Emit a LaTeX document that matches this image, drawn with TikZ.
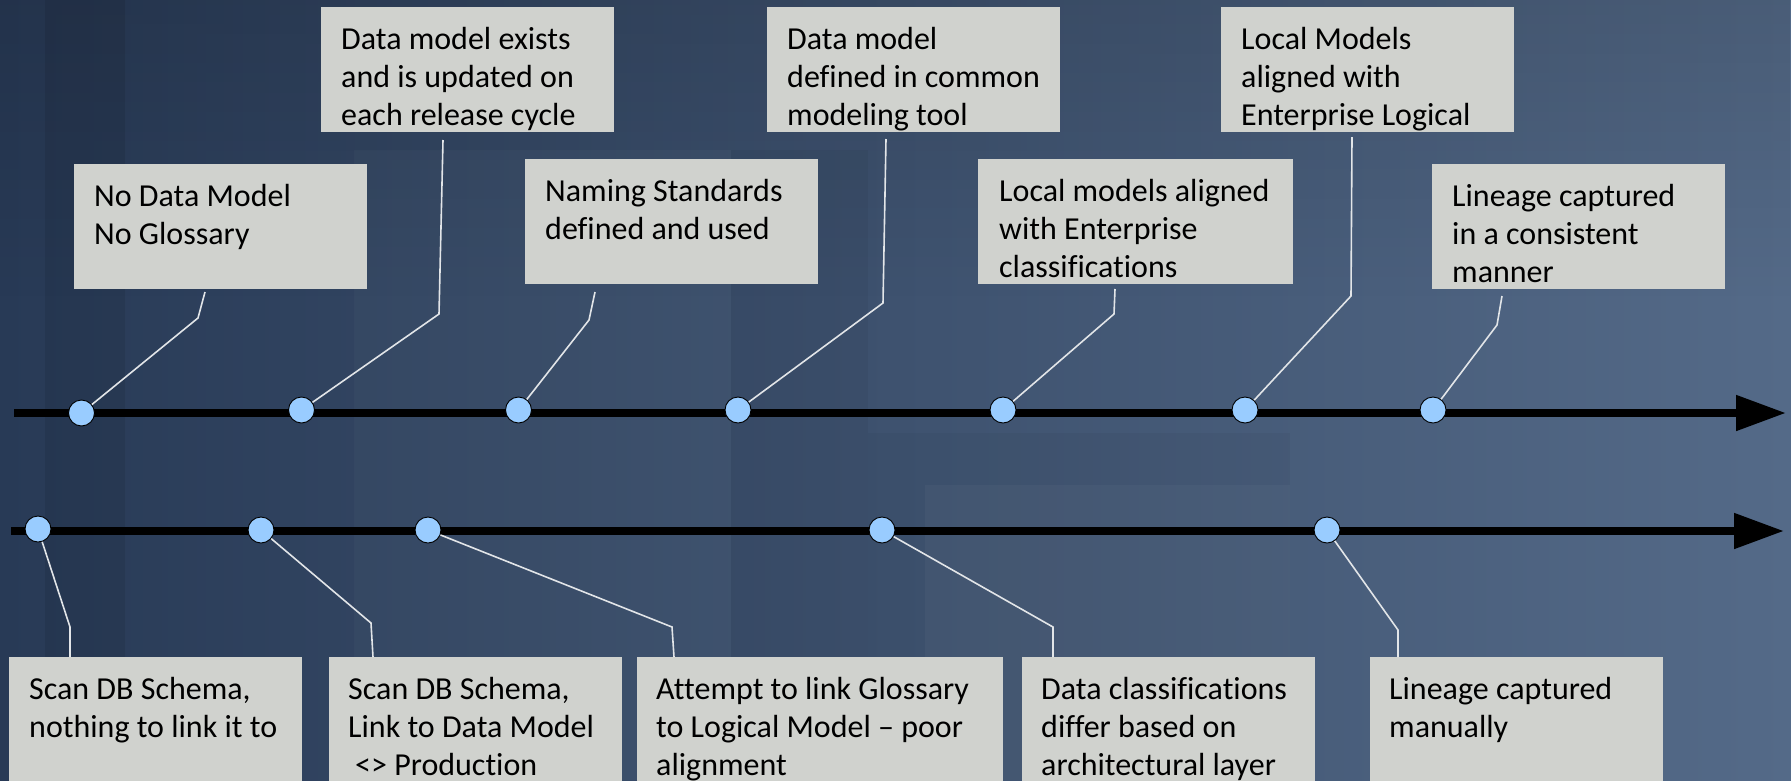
\documentclass[tikz,border=0pt]{standalone}
\usepackage{fontspec}
\setmainfont{Carlito}[Ligatures={NoCommon}]
\usetikzlibrary{arrows.meta,fadings}

\definecolor{bgdark}{RGB}{40,58,86}
\definecolor{bglight}{RGB}{84,106,136}
\definecolor{boxfill}{RGB}{208,210,206}
\definecolor{dotfill}{RGB}{153,204,255}
\definecolor{leadcol}{RGB}{226,229,232}

\tikzset{
  card/.style={fill=boxfill, draw=none, anchor=north west, inner sep=0pt, outer sep=0pt},
  caption/.style={anchor=base west, inner sep=0pt, font=\fontsize{32}{38}\selectfont},
  milestone/.style={circle, fill=dotfill, draw=black, line width=0.9pt, minimum size=26pt, inner sep=0pt},
  leader/.style={draw=leadcol, line width=1.6pt, line join=miter},
  axis/.style={line width=8pt, -{Triangle[length=50pt,width=34pt]}}
}

\begin{document}
\begin{tikzpicture}[x=1pt, y=-1pt]
\useasboundingbox (0,0) rectangle (1791,780);
\clip (0,0) rectangle (1791,780);

% backdrop
\fill[left color=bgdark, right color=bglight] (0,0) rectangle (1791,780);
\fill[black, opacity=0.12, path fading=south] (0,0) rectangle (1791,300);
\fill[black, opacity=0.08] (45,0) rectangle (125,780);
\fill[white, opacity=0.025] (354,150) rectangle (731,780);
\fill[black, opacity=0.04] (731,150) rectangle (868,780);
\fill[black, opacity=0.035] (868,433) rectangle (1290,780);
\fill[white, opacity=0.03] (925,485) rectangle (1290,780);

% ---------- upper time line ----------
\node[card, minimum width=293pt, minimum height=125pt] (u1) at (74,164) {};
\node[card, minimum width=293pt, minimum height=125pt] (u2) at (321,7) {};
\node[card, minimum width=293pt, minimum height=125pt] (u3) at (525,159) {};
\node[card, minimum width=293pt, minimum height=125pt] (u4) at (767,7) {};
\node[card, minimum width=315pt, minimum height=125pt] (u5) at (978,159) {};
\node[card, minimum width=293pt, minimum height=125pt] (u6) at (1221,7) {};
\node[card, minimum width=293pt, minimum height=125pt] (u7) at (1432,164) {};

\node[caption] (ut1) at (94,206) {\parbox[t]{280pt}{No Data Model\\No Glossary}};
\node[caption] (ut2) at (341,49) {\parbox[t]{280pt}{Data model exists\\and is updated on\\each release cycle}};
\node[caption] (ut3) at (545,201) {\parbox[t]{280pt}{Naming Standards\\defined and used}};
\node[caption] (ut4) at (787,49) {\parbox[t]{280pt}{Data model\\defined in common\\modeling tool}};
\node[caption] (ut5) at (999,201) {\parbox[t]{300pt}{Local models aligned\\with Enterprise\\classifications}};
\node[caption] (ut6) at (1241,49) {\parbox[t]{280pt}{Local Models\\aligned with\\Enterprise Logical}};
\node[caption] (ut7) at (1452,206) {\parbox[t]{280pt}{Lineage captured\\in a consistent\\manner}};

\coordinate (ua1) at (205,292);  \coordinate (uk1) at (198,318);
\coordinate (ua2) at (443,140);  \coordinate (uk2) at (439,314);
\coordinate (ua3) at (595,292);  \coordinate (uk3) at (589,320);
\coordinate (ua4) at (886,139);  \coordinate (uk4) at (883,303);
\coordinate (ua5) at (1115,289); \coordinate (uk5) at (1114,314);
\coordinate (ua6) at (1352,137); \coordinate (uk6) at (1351,296);
\coordinate (ua7) at (1502,296); \coordinate (uk7) at (1497,325);

\coordinate (us) at (14,413);
\coordinate (ue) at (1786,413);
\draw[axis] (us) -- (ue);

\node[milestone] (ud1) at (81.5,413) {};
\node[milestone] (ud2) at (301.5,410) {};
\node[milestone] (ud3) at (518.5,410) {};
\node[milestone] (ud4) at (738,410) {};
\node[milestone] (ud5) at (1003,410) {};
\node[milestone] (ud6) at (1245,410) {};
\node[milestone] (ud7) at (1433,410) {};

\foreach \i in {1,...,7}
  \draw[leader] (ua\i) -- (uk\i) -- (ud\i);

% ---------- lower time line ----------
\coordinate (ls) at (11,531);
\coordinate (le) at (1784,531);
\draw[axis] (ls) -- (le);

\node[milestone] (ld1) at (38,529) {};
\node[milestone] (ld2) at (261,530) {};
\node[milestone] (ld3) at (428,530) {};
\node[milestone] (ld4) at (882,530) {};
\node[milestone] (ld5) at (1327,530) {};

\node[card, minimum width=293pt, minimum height=160pt] (l1) at (9,657) {};
\node[card, minimum width=293pt, minimum height=160pt] (l2) at (329,657) {};
\node[card, minimum width=366pt, minimum height=160pt] (l3) at (637,657) {};
\node[card, minimum width=293pt, minimum height=160pt] (l4) at (1022,657) {};
\node[card, minimum width=293pt, minimum height=160pt] (l5) at (1370,657) {};

\node[caption] (lt1) at (29,699) {\parbox[t]{280pt}{Scan DB Schema,\\nothing to link it to}};
\node[caption] (lt2) at (348,699) {\parbox[t]{280pt}{Scan DB Schema,\\Link to Data Model\\\hspace*{7pt}<> Production}};
\node[caption] (lt3) at (656,699) {\parbox[t]{350pt}{Attempt to link Glossary\\to Logical Model – poor\\alignment}};
\node[caption] (lt4) at (1041,699) {\parbox[t]{280pt}{Data classifications\\differ based on\\architectural layer}};
\node[caption] (lt5) at (1389,699) {\parbox[t]{280pt}{Lineage captured\\manually}};

\coordinate (lk1) at (70,627);   \coordinate (la1) at (70,657);
\coordinate (lk2) at (371,623);  \coordinate (la2) at (373,657);
\coordinate (lk3) at (672,627);  \coordinate (la3) at (674,657);
\coordinate (lk4) at (1053,627); \coordinate (la4) at (1053,657);
\coordinate (lk5) at (1398,630); \coordinate (la5) at (1398,657);

\foreach \i in {1,...,5}
  \draw[leader] (ld\i) -- (lk\i) -- (la\i);
\end{tikzpicture}
\end{document}
